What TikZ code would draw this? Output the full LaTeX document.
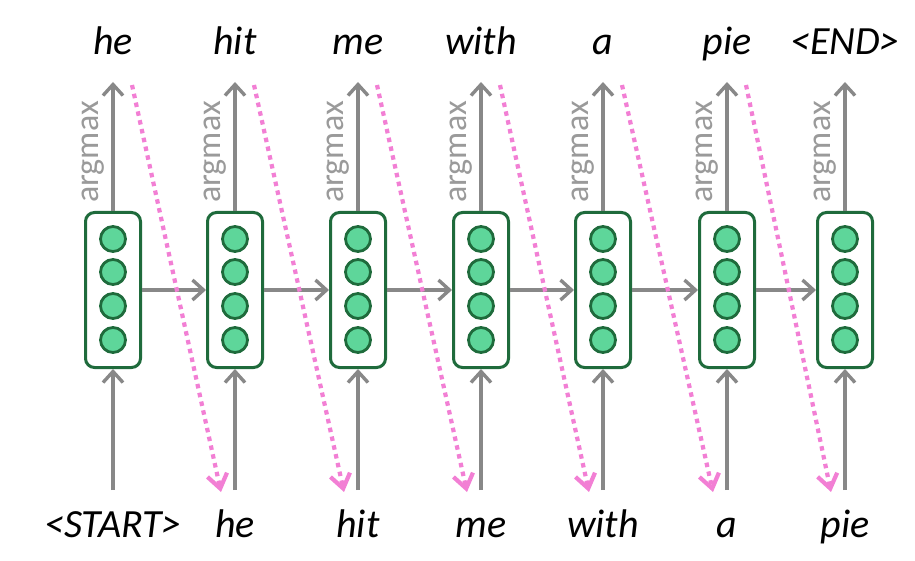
\documentclass[tikz,border=0pt]{standalone}
\usepackage{fontspec}
\setmainfont{Carlito}
\usetikzlibrary{arrows.meta}
\definecolor{boxgreen}{HTML}{1F6B3C}
\definecolor{dotgreen}{HTML}{5ED69A}
\definecolor{arrgrey}{HTML}{888888}
\definecolor{txtgrey}{HTML}{9A9A9A}
\definecolor{pinkdot}{HTML}{F27FD4}
\tikzset{
  cell/.style={draw=boxgreen, line width=3pt, rounded corners=9pt, minimum width=55pt, minimum height=155pt, inner sep=0pt},
  unit/.style={circle, draw=boxgreen, line width=2.8pt, fill=dotgreen, minimum size=25pt, inner sep=0pt},
  flow/.style={draw=arrgrey, line width=3.4pt, -{Straight Barb[length=11pt,width=20pt,line width=3.4pt]}},
  guess/.style={draw=pinkdot, line width=4.2pt, dash pattern=on 4.5pt off 4.5pt, -{Straight Barb[length=14pt,width=20pt,line width=4.2pt]}},
  word/.style={font=\fontsize{40}{46}\selectfont\itshape, anchor=base, inner sep=0pt},
  amax/.style={font=\fontsize{34}{40}\selectfont, text=txtgrey, rotate=90, anchor=base, inner sep=0pt}
}
\begin{document}
\begin{tikzpicture}[x=1pt,y=-1pt]
\useasboundingbox (0,0) rectangle (915,561);
\foreach \i/\x/\top/\bot in {1/113/he/{<START>},2/235/hit/he,3/358/me/hit,4/481/with/me,5/603/a/with,6/727/pie/a,7/845/{<END>}/pie}{
  \node[cell] (c\i) at (\x,290) {};
  \node[unit] (u\i a) at (\x,239) {};
  \node[unit] (u\i b) at (\x,272) {};
  \node[unit] (u\i c) at (\x,306) {};
  \node[unit] (u\i d) at (\x,340) {};
  \node[word] (out\i) at (\x,55) {\top};
  \node[word] (in\i) at (\x,537) {\bot};
  \coordinate (ot\i) at (\x,82);
  \coordinate (ib\i) at (\x,490);
  \draw[flow] (c\i.north) -- (ot\i);
  \draw[flow] (ib\i) -- (c\i.south);
  \node[amax] (am\i) at (\x-15,152) {argmax};
  \coordinate (ps\i) at (\x+19,85);
  \coordinate (pe\i) at (\x-14,492);
}
\foreach \i/\j in {1/2,2/3,3/4,4/5,5/6,6/7}{
  \draw[flow] (c\i.east |- c\i) -- (c\j.west |- c\j);
  \draw[guess] (ps\i) -- (pe\j);
}
\end{tikzpicture}
\end{document}
